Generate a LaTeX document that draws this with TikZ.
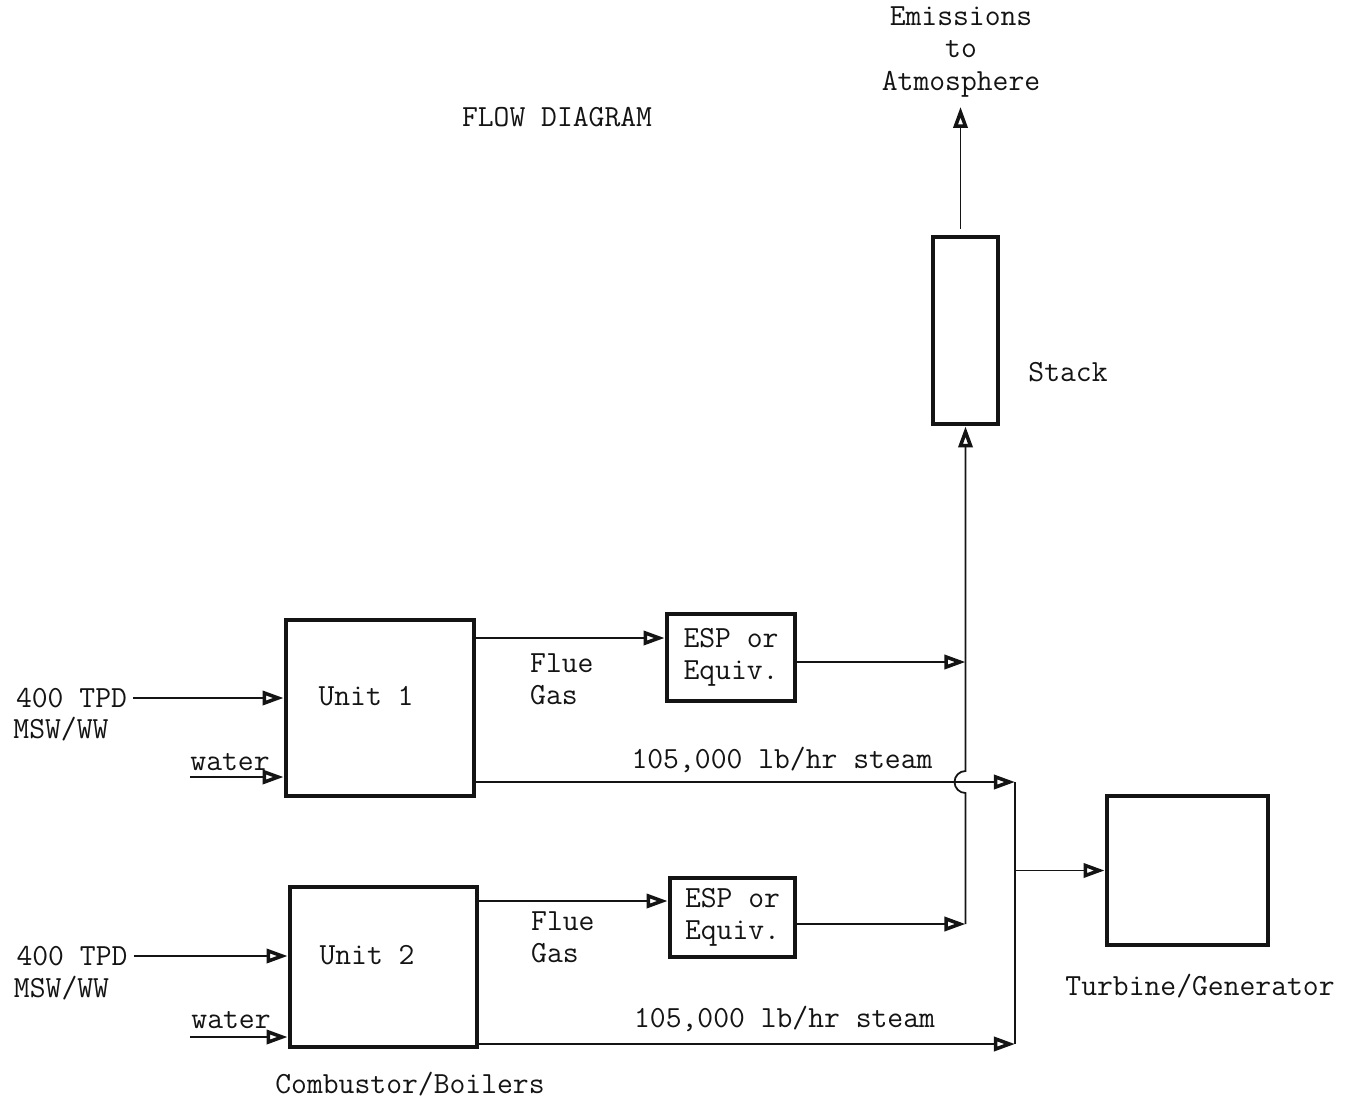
\documentclass[tikz,border=0pt]{standalone}
\usepackage{tikz}
\usepackage{xcolor}
\usetikzlibrary{arrows.meta,calc}
\definecolor{ink}{gray}{0.08}

\begin{document}
\begin{tikzpicture}[x=0.02cm,y=-0.02cm,
  every node/.style={font=\ttfamily\fontsize{17.5}{18.4}\selectfont,text=ink},
  unitbox/.style={draw=ink,line width=2.7pt,inner sep=0pt},
  pipe/.style={draw=ink,line width=1pt},
  flow/.style={pipe,-{Triangle[open,length=12pt,width=8pt,line width=2pt]}}]
\useasboundingbox (0,0) rectangle (1345,1102);
\node (title) at (557,117) {FLOW DIAGRAM};
\node[align=center] (emis) at (961,52) {Emissions\\to\\Atmosphere};
\node[unitbox,minimum width=1.3cm,minimum height=3.74cm] (stack) at (965.5,330.5) {};
\node (stacklbl) at (1068,372) {Stack};
\node[unitbox,minimum width=3.76cm,minimum height=3.52cm] (u1) at (380,708) {};
\node[unitbox,minimum width=3.74cm,minimum height=3.2cm] (u2) at (383.5,967) {};
\node (u1lbl) at (366,696) {Unit 1};
\node (u2lbl) at (367,955) {Unit 2};
\node[unitbox,minimum width=2.56cm,minimum height=1.74cm,align=center] (esp1) at (731,657.5) {ESP or\\Equiv.};
\node[unitbox,minimum width=2.5cm,minimum height=1.58cm,align=center] (esp2) at (732.5,917.5) {ESP or\\Equiv.};
\node[unitbox,minimum width=3.22cm,minimum height=2.98cm] (tg) at (1187.5,870.5) {};
\node (tglbl) at (1200,986) {Turbine/Generator};
\node (cblbl) at (410,1084) {Combustor/Boilers};
\node[align=left,anchor=west] (flue1) at (524,679) {Flue\\Gas};
\node[align=left,anchor=west] (flue2) at (525,937) {Flue\\Gas};
\node (steam1) at (782,760) {105,000 lb/hr steam};
\node (steam2) at (784.5,1019) {105,000 lb/hr steam};
\node (tpd1) at (71.5,698) {400 TPD};
\node (msw1) at (61,729) {MSW/WW};
\node (tpd2) at (72,956) {400 TPD};
\node (msw2) at (61.5,988) {MSW/WW};
\node (wat1) at (230,762) {water};
\node (wat2) at (231,1020) {water};
\coordinate (fg1) at (0,638);
\coordinate (fg2) at (0,901);
\coordinate (eo1) at (0,662);
\coordinate (eo2) at (0,924);
\coordinate (st1) at (0,782);
\coordinate (st2) at (0,1044);
\coordinate (wa1) at (190,777);
\coordinate (wa2) at (190,1037);
\coordinate (hdr) at (1015,0);
\draw[flow] (tpd1.east) -- (u1.west |- tpd1.east);
\draw[flow] (tpd2.east) -- (u2.west |- tpd2.east);
\draw[flow] (wa1) -- (u1.west |- wa1);
\draw[flow] (wa2) -- (u2.west |- wa2);
\draw[flow] (u1.east |- fg1) -- (esp1.west |- fg1);
\draw[flow] (u2.east |- fg2) -- (esp2.west |- fg2);
\draw[flow] (esp1.east |- eo1) -- (stack.south |- eo1);
\draw[flow] (esp2.east |- eo2) -- (stack.south |- eo2);
\draw[flow] (stack.south |- eo2) -- ($(stack.south |- st1)+(0,11)$)
  arc[start angle=90,end angle=270,radius=11] -- (stack.south);
\draw[flow,shorten >=2pt] ($(stack.north)+(-5,-6)$) -- ($(stack.north |- emis.south)+(-5,0)$);
\draw[flow] (u1.east |- st1) -- (hdr |- st1);
\draw[flow] (u2.east |- st2) -- (hdr |- st2);
\draw[pipe] (hdr |- st1) -- (hdr |- st2);
\draw[flow] (hdr |- tg.west) -- (tg.west);
\end{tikzpicture}
\end{document}
